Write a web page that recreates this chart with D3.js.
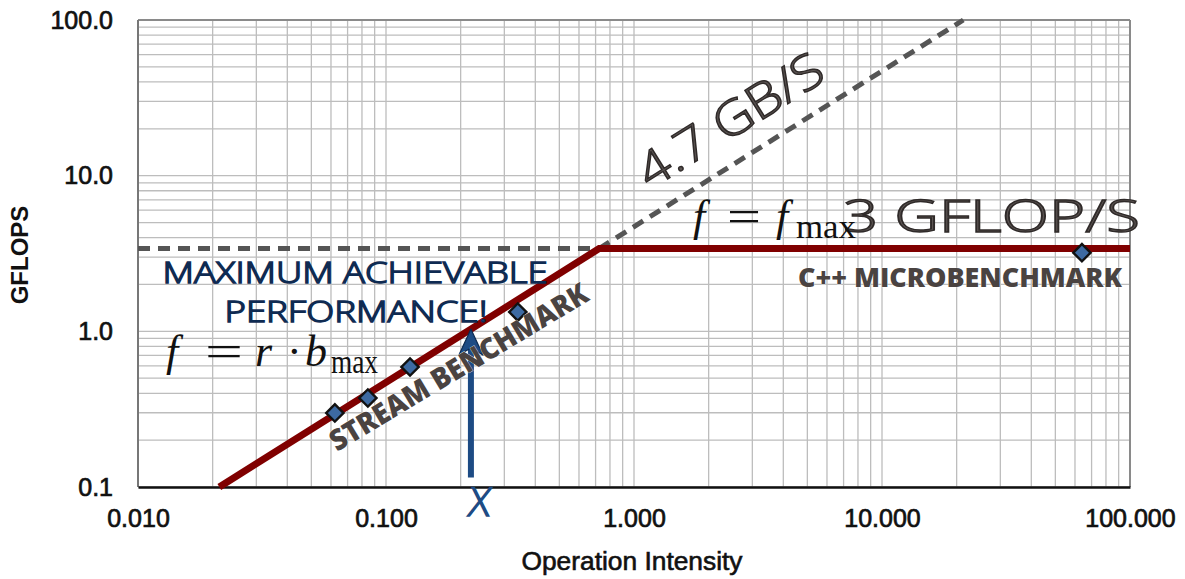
<!DOCTYPE html>
<html>
<head>
<meta charset="utf-8">
<script src="https://cdn.jsdelivr.net/npm/d3@7"></script>
<style>
  html, body { margin: 0; padding: 0; background: #ffffff; }
  svg { display: block; }
</style>
</head>
<body>
<svg id="chart" width="1185" height="579"></svg>
<script>
// Roofline model: measured kernels vs. memory-bandwidth and compute ceilings
const xDomain = [0.01, 100];
const yDomain = [0.1, 100];
const xTickValues = [0.01, 0.1, 1, 10, 100];
const yTickValues = [0.1, 1, 10, 100];

const bandwidthGBs = 4.7;      // STREAM bandwidth (slope of the roof)
const peakGflops = 3.4;        // compute ceiling

// STREAM benchmark kernels (operational intensity, GFLOPS)
const streamIntensity = [0.0622, 0.0845, 0.125, 0.34];
const streamGflops    = [0.299, 0.373, 0.59, 1.33];
// C++ microbenchmark
const microIntensity = [64];
const microGflops    = [3.2];

// Example kernel intensity marked with the arrow
const exampleIntensity = 0.22;
const exampleFloor = 0.115;

const svg = d3.select("#chart");
const pLeft = 138, pRight = 1130, pTop = 20, pBottom = 487;

const x = d3.scaleLog().domain(xDomain).range([pLeft, pRight]);
const y = d3.scaleLog().domain(yDomain).range([pBottom, pTop]);

// ---- grid ----
const minorX = [], minorY = [];
for (let d = 0.01; d < 99; d *= 10) for (let k = 1; k < 10; k++) minorX.push(+(d * k).toPrecision(3));
minorX.push(100);
for (let d = 0.1; d < 99; d *= 10) for (let k = 1; k < 10; k++) minorY.push(+(d * k).toPrecision(3));
minorY.push(100);

const grid = svg.append("g");
grid.selectAll("line.gx").data(minorX).join("line").attr("class", "gx")
  .attr("x1", d => x(d)).attr("x2", d => x(d))
  .attr("y1", pTop).attr("y2", pBottom)
  .attr("stroke", "#bdbdbd").attr("stroke-width", 1.3);
grid.selectAll("line.gy").data(minorY).join("line").attr("class", "gy")
  .attr("y1", d => y(d)).attr("y2", d => y(d))
  .attr("x1", pLeft).attr("x2", pRight)
  .attr("stroke", "#bdbdbd").attr("stroke-width", 1.3);

// frame
svg.append("line").attr("x1", pLeft).attr("x2", pRight).attr("y1", pTop).attr("y2", pTop)
  .attr("stroke", "#8a8a8a").attr("stroke-width", 2);
svg.append("line").attr("x1", pRight).attr("x2", pRight).attr("y1", pTop).attr("y2", pBottom)
  .attr("stroke", "#8a8a8a").attr("stroke-width", 2);
svg.append("line").attr("x1", pLeft).attr("x2", pLeft).attr("y1", pTop).attr("y2", pBottom)
  .attr("stroke", "#777").attr("stroke-width", 2);

// ---- axes ----
const tickFont = "'Liberation Sans', Arial, Helvetica, sans-serif";
const xAxis = svg.append("g").attr("transform", `translate(0,${pBottom})`)
  .call(d3.axisBottom(x).tickValues(xTickValues).tickFormat(d3.format(".3f")).tickSize(0).tickPadding(22));
xAxis.select(".domain").attr("stroke", "#111").attr("stroke-width", 2.5);
xAxis.selectAll("text").attr("font-family", tickFont).attr("font-size", 25)
  .attr("fill", "#111").attr("stroke", "#111").attr("stroke-width", 0.7);

const yAxis = svg.append("g").attr("transform", `translate(${pLeft},0)`)
  .call(d3.axisLeft(y).tickValues(yTickValues).tickFormat(d3.format(".1f")).tickSize(0).tickPadding(25));
yAxis.select(".domain").remove();
yAxis.selectAll("text").attr("font-family", tickFont).attr("font-size", 25)
  .attr("fill", "#111").attr("stroke", "#111").attr("stroke-width", 0.7);

svg.append("text").attr("x", 632).attr("y", 570).attr("text-anchor", "middle")
  .attr("font-family", tickFont).attr("font-size", 25).attr("fill", "#111")
  .attr("stroke", "#111").attr("stroke-width", 0.6)
  .attr("textLength", 221).attr("lengthAdjust", "spacingAndGlyphs")
  .text("Operation Intensity");
svg.append("text").attr("transform", "translate(28,255) rotate(-90)").attr("text-anchor", "middle")
  .attr("font-family", tickFont).attr("font-size", 24).attr("font-weight", "bold").attr("fill", "#111")
  .text("GFLOPS");

// ---- roofs ----
const ridge = peakGflops / bandwidthGBs;
const dashed = svg.append("g").attr("fill", "none").attr("stroke", "#555")
  .attr("stroke-width", 5).attr("stroke-dasharray", "12,8");
dashed.append("line")
  .attr("x1", x(xDomain[0])).attr("x2", x(xDomain[1]) + 5)
  .attr("y1", y(peakGflops)).attr("y2", y(peakGflops));
dashed.append("line")
  .attr("x1", x(ridge)).attr("y1", y(peakGflops))
  .attr("x2", x(yDomain[1] / bandwidthGBs)).attr("y2", y(yDomain[1]));

const roof = d3.line().x(d => x(d[0])).y(d => y(d[1]));
svg.append("path")
  .attr("d", roof([[yDomain[0] / bandwidthGBs, yDomain[0]], [ridge, peakGflops], [xDomain[1], peakGflops]]))
  .attr("fill", "none").attr("stroke", "#800000").attr("stroke-width", 7)
  .attr("stroke-linejoin", "miter");

// ---- measured points ----
const pts = streamIntensity.map((v, i) => [v, streamGflops[i]])
  .concat(microIntensity.map((v, i) => [v, microGflops[i]]));
svg.selectAll("path.pt").data(pts).join("path").attr("class", "pt")
  .attr("transform", d => `translate(${x(d[0])},${y(d[1])}) rotate(45)`)
  .attr("d", d3.symbol().type(d3.symbolSquare).size(150))
  .attr("fill", "#3d6aa2").attr("stroke", "#111").attr("stroke-width", 2.4);

// ---- example arrow ----
const navy = "#1d4b84";
const ax = x(exampleIntensity);
const tipY = y(bandwidthGBs * exampleIntensity);
svg.append("line").attr("x1", ax).attr("x2", ax)
  .attr("y1", y(exampleFloor)).attr("y2", tipY + 14)
  .attr("stroke", navy).attr("stroke-width", 6);
svg.append("path")
  .attr("d", `M${ax},${tipY} L${ax - 12},${tipY + 26} L${ax},${tipY + 19} L${ax + 12},${tipY + 26} Z`)
  .attr("fill", navy).attr("stroke", "#0d2a50").attr("stroke-width", 1.2).attr("stroke-linejoin", "round");
svg.append("text")
  .attr("transform", `translate(${ax + 7},516) skewX(-8)`).attr("text-anchor", "middle")
  .attr("font-family", "'Open Sans', sans-serif").attr("font-weight", 300).attr("font-size", 40)
  .attr("fill", navy).attr("stroke", navy).attr("stroke-width", 1.4)
  .text("X");

// ---- annotations ----
const hand = "'Open Sans', 'DejaVu Sans', sans-serif";
const navyText = (t, cx, by, len, fs) => svg.append("text")
  .attr("x", cx).attr("y", by).attr("text-anchor", "middle")
  .attr("font-family", hand).attr("font-weight", 300).attr("font-size", fs)
  .attr("textLength", len).attr("lengthAdjust", "spacingAndGlyphs")
  .attr("fill", "#2a5a95").attr("stroke", "#0f2b52").attr("stroke-width", 1.4)
  .text(t);
navyText("MAXIMUM ACHIEVABLE", 355, 283, 385, 29);
navyText("PERFORMANCE!", 356, 322, 263, 29);

const grayHand = (t, tx, ty, rot, len, fs) => svg.append("text")
  .attr("transform", `translate(${tx},${ty}) rotate(${rot})`)
  .attr("font-family", hand).attr("font-weight", 300).attr("font-size", fs)
  .attr("textLength", len).attr("lengthAdjust", "spacingAndGlyphs")
  .attr("fill", "#5c5553").attr("stroke", "#2f2a29").attr("stroke-width", 1.4)
  .text(t);
grayHand("4.7 GB/S", 650, 190, -32, 210, 48);
grayHand("3 GFLOP/S", 843, 232, 0, 297, 45);

// math annotations, each symbol placed along the baseline
const mathFont = "'Liberation Serif', 'DejaVu Serif', serif";
const mathText = (parts, by) => {
  const t = svg.append("text").attr("y", by)
    .attr("font-family", mathFont).attr("font-size", 44).attr("fill", "#111");
  parts.forEach(p => {
    const s = t.append("tspan")
      .attr("x", p[1]).attr("y", by + (p[3] ? 7 : 0))
      .attr("font-style", p[2] ? "italic" : "normal")
      .attr("font-size", p[3] ? 33 : 44)
      .text(p[0]);
    if (p[4]) s.attr("textLength", p[4]).attr("lengthAdjust", "spacingAndGlyphs");
  });
};
mathText([["f", 166, true], ["=", 205, false, false, 38], ["r", 255, true], ["·", 287], ["b", 305, true], ["max", 331, false, true, 47]], 366);
mathText([["f", 693, true], ["=", 727, false, false, 34], ["f", 776, true], ["max", 796, false, true, 60]], 231);

const boldLabel = (t, tx, ty, rot, len, fs) => svg.append("text")
  .attr("transform", `translate(${tx},${ty}) rotate(${rot})`)
  .attr("font-family", "'Open Sans', 'Lato', sans-serif").attr("font-weight", 800).attr("font-size", fs)
  .attr("textLength", len).attr("lengthAdjust", "spacingAndGlyphs")
  .attr("fill", "#4a4341").attr("stroke", "#ffffff").attr("stroke-width", 0.6).attr("paint-order", "stroke")
  .text(t);
boldLabel("STREAM BENCHMARK", 337, 452, -31, 296, 29);
boldLabel("C++ MICROBENCHMARK", 798, 287, 0, 324, 27);
</script>
</body>
</html>
